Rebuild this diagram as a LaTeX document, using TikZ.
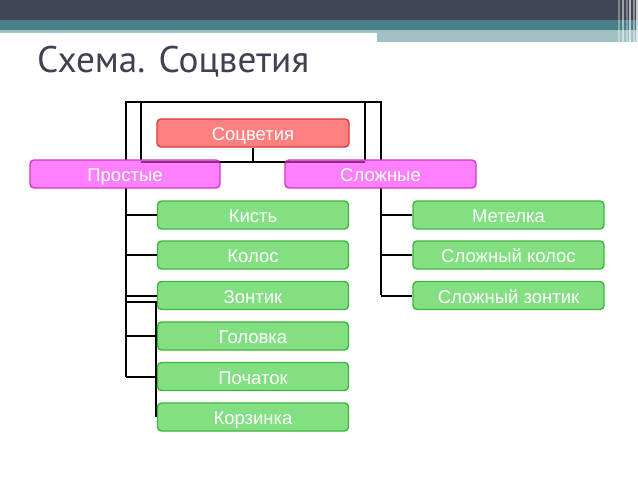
\documentclass[tikz,border=0pt]{standalone}
\usepackage{fontspec}
\setmainfont{Liberation Sans}
\newfontfamily\titlefont{PT Sans}
\usepackage{graphicx}
\definecolor{hdrdark}{HTML}{424555}
\definecolor{hdrteal}{HTML}{4A7F86}
\definecolor{hdrlight}{HTML}{A2C1C5}
\definecolor{titlecol}{HTML}{3F4151}
\definecolor{rootfill}{HTML}{FF8080}
\definecolor{rootdraw}{HTML}{E03A3A}
\definecolor{magfill}{HTML}{FF80FF}
\definecolor{magdraw}{HTML}{CC3CBE}
\definecolor{grnfill}{HTML}{82E082}
\definecolor{grndraw}{HTML}{3DB53D}
\tikzset{
  box/.style={rounded corners=4pt, line width=1.4pt, minimum height=28pt,
    inner sep=0pt, text height=15pt, text depth=-3pt, text=white,
    font=\fontsize{18.5}{21}\selectfont},
  rootbox/.style={box, fill=rootfill, draw=rootdraw, minimum width=192pt},
  magbox/.style={box, fill=magfill, draw=magdraw, minimum width=190pt},
  grnbox/.style={box, fill=grnfill, draw=grndraw, minimum width=191pt},
  conn/.style={line width=2pt, black}
}
\begin{document}
\begin{tikzpicture}[x=1pt, y=-1pt]
\useasboundingbox (0,0) rectangle (638,479);
\fill[white] (0,0) rectangle (638,479);
% header
\fill[hdrdark] (0,0) rectangle (638,20);
\fill[hdrteal] (0,20) rectangle (638,30);
\fill[hdrlight] (0,30) rectangle (377,33);
\fill[hdrlight] (377,30) rectangle (638,42);
\foreach \x/\w/\o in {618/2/0.35, 622/1.5/0.5, 626/2/0.3, 629/1.5/0.6, 633/2/0.4, 636/2/0.7}
  \fill[white, opacity=\o] (\x,0) rectangle (\x+\w,43);
% title
\node[anchor=base west, inner sep=0pt, text=titlecol] (title) at (37,72)
  {\resizebox{272pt}{\height}{\titlefont\fontsize{37}{40}\selectfont Схема. Соцветия}};
% connector coordinates
\coordinate (tl) at (126,102);
\coordinate (tr) at (381,102);
\coordinate (il) at (141,102);
\coordinate (ir) at (365,102);
\coordinate (ilb) at (141,162);
\coordinate (irb) at (365,162);
\coordinate (mid) at (253,162);
\coordinate (lb) at (126,377);
\coordinate (rb) at (381,295);
\coordinate (s1) at (126,302);
\coordinate (s2) at (156,302);
\coordinate (s3) at (156,417);
% connectors (behind boxes)
\draw[conn] (lb) -- (tl) -- (tr) -- (rb);
\draw[conn] (il) -- (ilb) -- (irb) -- (ir);
\draw[conn] (s1) -- (s2) -- (s3);
% nodes
\node[rootbox] (root) at (253,133) {Соцветия};
\draw[conn] (root.south) -- (mid);
\node[magbox] (prost) at (125,174) {Простые};
\node[magbox, minimum width=191pt] (slozh) at (380.5,174) {Сложные};
\draw[magdraw!70!black, line width=1.5pt] (ilb) -- (220,162);
\draw[magdraw!70!black, line width=1.5pt] (285,162) -- (irb);
\node[grnbox] (kist) at (253,215) {Кисть};
\node[grnbox] (kolos) at (253,255) {Колос};
\node[grnbox] (zont) at (253,295.5) {Зонтик};
\node[grnbox] (golov) at (253,336) {Головка};
\node[grnbox] (poch) at (253,376.5) {Початок};
\node[grnbox] (korz) at (253,417) {Корзинка};
\node[grnbox] (metel) at (508.5,215) {Метелка};
\node[grnbox] (skolos) at (508.5,255) {Сложный колос};
\node[grnbox] (szont) at (508.5,295.5) {Сложный зонтик};
% branches
\draw[conn] (126,215) -- (kist.west);
\draw[conn] (126,255) -- (kolos.west);
\draw[conn] (126,295.5) -- (zont.west);
\draw[conn] (126,336) -- (golov.west);
\draw[conn] (126,376.5) -- (poch.west);
\draw[conn] (381,215) -- (metel.west);
\draw[conn] (381,255) -- (skolos.west);
\draw[conn] (381,295.5) -- (szont.west);
\end{tikzpicture}
\end{document}
